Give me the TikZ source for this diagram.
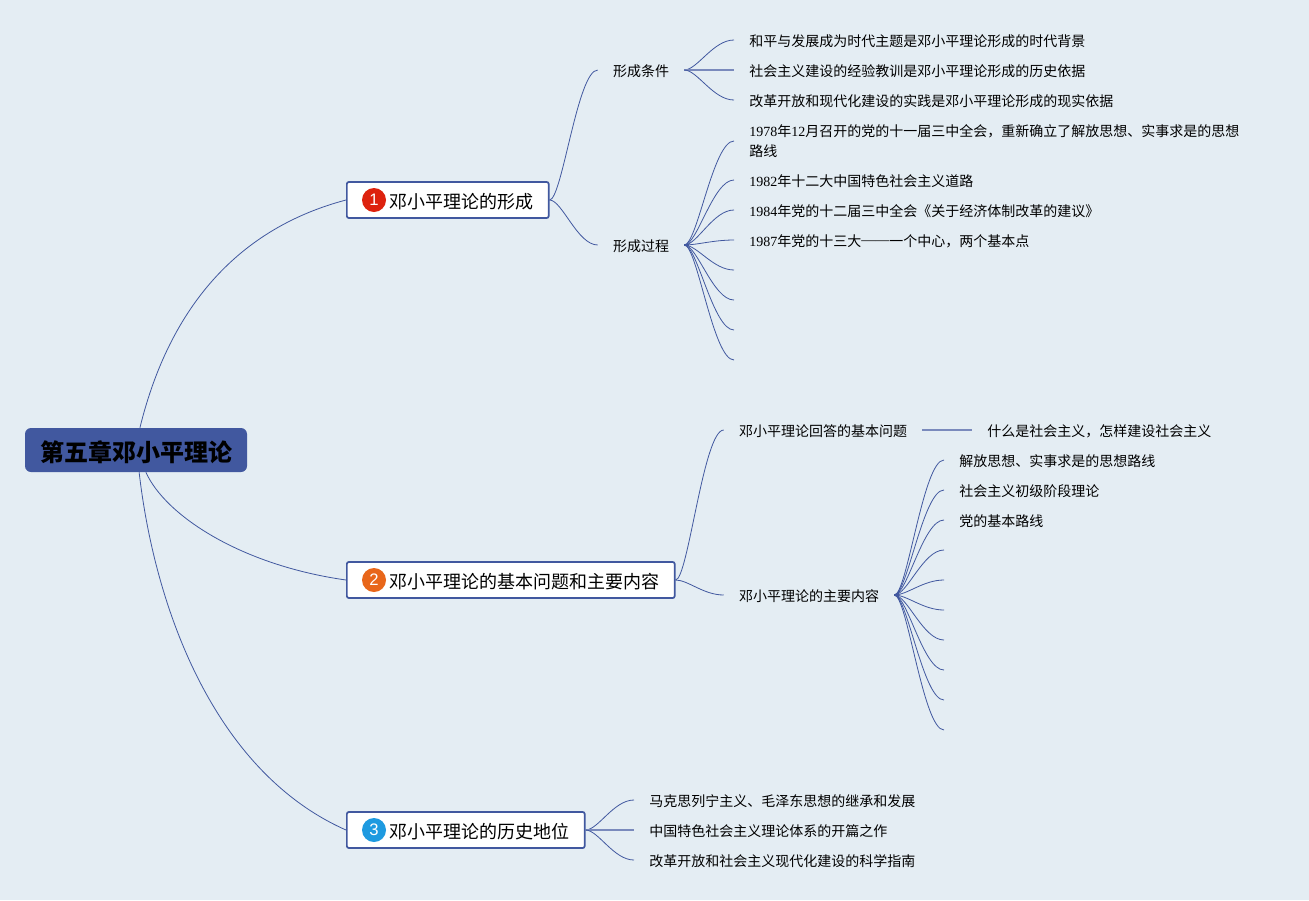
\documentclass[tikz,border=0pt]{standalone}
\usepackage{fontspec}
\setmainfont{Noto Sans CJK SC}
\newfontfamily\latinfont{Liberation Serif}
\newfontfamily\badgefont{Liberation Sans}
\newcommand{\lat}[1]{{\latinfont #1}}
\usetikzlibrary{calc}
\definecolor{pagebg}{RGB}{228,237,243}
\definecolor{mapblue}{RGB}{65,88,159}
\definecolor{badgered}{RGB}{221,34,14}
\definecolor{badgeorange}{RGB}{232,102,26}
\definecolor{badgeblue}{RGB}{30,154,224}
\tikzset{
  rootbox/.style={fill=mapblue, rounded corners=4.5pt, inner xsep=11.25pt, inner ysep=0pt, minimum height=33pt,
    text height=19.6pt, text depth=3pt, font=\fontsize{18}{22}\selectfont\bfseries, text=black},
  branchbox/.style={draw=mapblue, line width=1.3pt, fill=white, rounded corners=1.5pt, anchor=west,
    inner xsep=11.1pt, inner ysep=0pt, minimum height=27pt, text height=14.2pt, text depth=2pt,
    font=\fontsize{13.5}{16}\selectfont},
  badge/.style={circle, inner sep=0pt, minimum size=18pt, text=white, font=\badgefont\fontsize{12.5}{13}\selectfont},
  topic/.style={inner xsep=11.25pt, inner ysep=0pt, text height=11.4pt, text depth=2pt, font=\fontsize{10.5}{15}\selectfont},
  leaf/.style={topic, anchor=west, align=left},
  link/.style={draw=mapblue, line width=0.6pt},
  level/.style={draw=mapblue!70, line width=1pt},
  stub/.style={draw=mapblue, line width=1.2pt},
  fork/.style={to path={let \p1=(\tikztostart), \p2=(\tikztotarget), \n1={\x2-\x1} in
    .. controls (\x1+0.26*\n1,\y1) and (\x2-0.42*\n1,\y2) .. (\p2)}}
}
\begin{document}
\begin{tikzpicture}[x=0.75pt, y=-0.75pt]
  \fill[pagebg] (0,0) rectangle (1309,900);
  \useasboundingbox (0,0) rectangle (1309,900);

  % root and main branches
  \node[rootbox] (root) at (136,450) {第五章邓小平理论};
  \node[branchbox] (form) at (346,200) {\hspace*{21.15pt}邓小平理论的形成};
  \node[branchbox] (core) at (346,580) {\hspace*{21.15pt}邓小平理论的基本问题和主要内容};
  \node[branchbox] (place) at (346,830) {\hspace*{21.15pt}邓小平理论的历史地位};
  \node[badge, fill=badgered] (badge1) at ($(form.west)+(28,0)$) {1};
  \node[badge, fill=badgeorange] (badge2) at ($(core.west)+(28,0)$) {2};
  \node[badge, fill=badgeblue] (badge3) at ($(place.west)+(28,0)$) {3};

  \draw[link] (root.80) .. controls (170,305) and (240,228) .. (form.west);
  \draw[link] (root.-66) .. controls (165,515) and (240,565) .. (core.west);
  \draw[link] (root.-82) .. controls (155,610) and (215,772) .. (place.west);

  % branch 1
  \node[topic] (cond) at (641,70) {形成条件};
  \node[topic] (proc) at (641,245) {形成过程};
  \draw[link] (form.east) to[fork] (cond.west);
  \draw[link] (form.east) to[fork] (proc.west);
  \draw[stub] (cond.east) -- +(5,0);
  \draw[stub] (proc.east) -- +(5,0);

  \node[leaf] (cond1) at (734,40) {和平与发展成为时代主题是邓小平理论形成的时代背景};
  \node[leaf] (cond2) at (734,70) {社会主义建设的经验教训是邓小平理论形成的历史依据};
  \node[leaf] (cond3) at (734,100) {改革开放和现代化建设的实践是邓小平理论形成的现实依据};
  \draw[link] (cond.east) to[fork] (cond1.west);
  \draw[level] (cond.east) -- (cond2.west);
  \draw[link] (cond.east) to[fork] (cond3.west);

  \node[leaf, text height=, text depth=] (proc1) at (734,141) {\lat{1978}年\lat{12}月召开的党的十一届三中全会，重新确立了解放思想、实事求是的思想\\路线};
  \node[leaf] (proc2) at (734,180) {\lat{1982}年十二大中国特色社会主义道路};
  \node[leaf] (proc3) at (734,210) {\lat{1984}年党的十二届三中全会《关于经济体制改革的建议》};
  \node[leaf] (proc4) at (734,240) {\lat{1987}年党的十三大\raisebox{1.4pt}{\lat{——}}一个中心，两个基本点};
  \foreach \i in {1,...,4}
    \draw[link] (proc.east) to[fork] (proc\i.west);
  \foreach \i/\y in {5/270, 6/300, 7/330, 8/360} {
    \coordinate (proc\i) at (734,\y);
    \draw[link] (proc.east) to[fork] (proc\i);
  }

  % branch 2
  \node[topic] (ask) at (823,430) {邓小平理论回答的基本问题};
  \node[topic] (main) at (809,595) {邓小平理论的主要内容};
  \draw[link] (core.east) to[fork] (ask.west);
  \draw[link] (core.east) to[fork] (main.west);
  \draw[stub] (main.east) -- +(5,0);

  \node[leaf] (ans) at (972,430) {什么是社会主义，怎样建设社会主义};
  \draw[level] (ask.east) -- (ans.west);

  \node[leaf] (main1) at (944,460) {解放思想、实事求是的思想路线};
  \node[leaf] (main2) at (944,490) {社会主义初级阶段理论};
  \node[leaf] (main3) at (944,520) {党的基本路线};
  \foreach \i in {1,2,3}
    \draw[link] (main.east) to[fork] (main\i.west);
  \foreach \i/\y in {4/550, 5/580, 6/610, 7/640, 8/670, 9/700, 10/730} {
    \coordinate (main\i) at (944,\y);
    \draw[link] (main.east) to[fork] (main\i);
  }

  % branch 3
  \node[leaf] (place1) at (634,800) {马克思列宁主义、毛泽东思想的继承和发展};
  \node[leaf] (place2) at (634,830) {中国特色社会主义理论体系的开篇之作};
  \node[leaf] (place3) at (634,860) {改革开放和社会主义现代化建设的科学指南};
  \draw[link] (place.east) to[fork] (place1.west);
  \draw[level] (place.east) -- (place2.west);
  \draw[link] (place.east) to[fork] (place3.west);
\end{tikzpicture}
\end{document}
